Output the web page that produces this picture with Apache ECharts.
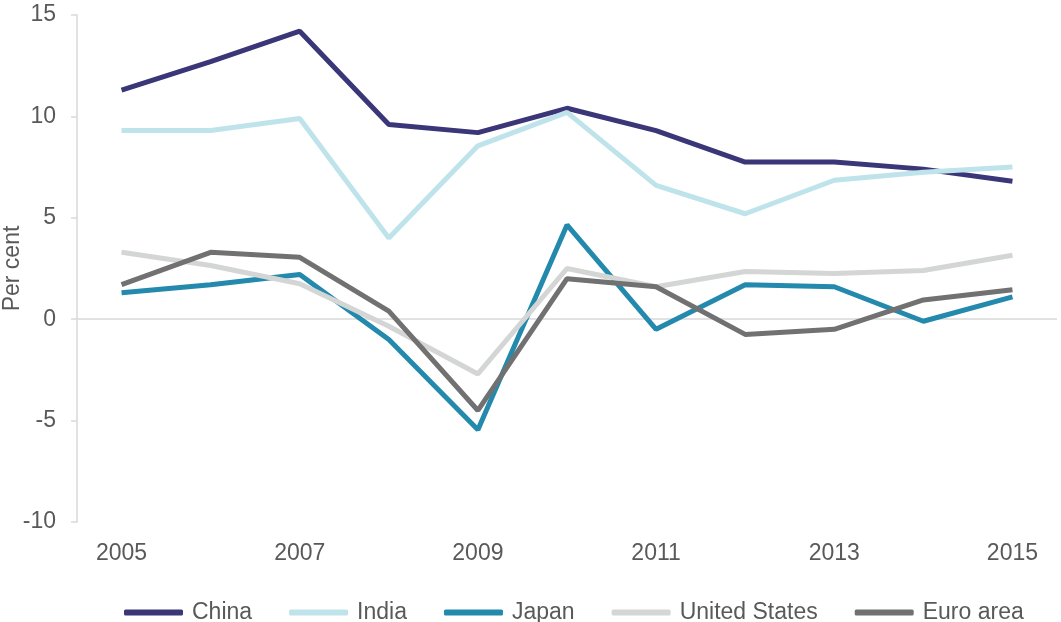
<!DOCTYPE html>
<html>
<head>
	<meta charset="utf-8">
	<title>Per cent</title>
	<script type="text/javascript" src="https://cdn.jsdelivr.net/npm/echarts@6/dist/echarts.min.js"></script>
	<style>
		html, body { margin: 0; padding: 0; background: #fff; }
		#chart { width: 1061px; height: 622px; }
	</style>
</head>
<body>
<div id="chart"></div>
<script>
	// data
	var years = ['2005', '2006', '2007', '2008', '2009', '2010', '2011', '2012', '2013', '2014', '2015'];
	var china = [11.3, 12.7, 14.2, 9.6, 9.2, 10.4, 9.3, 7.75, 7.75, 7.4, 6.8];
	var india = [9.3, 9.3, 9.9, 4.0, 8.55, 10.2, 6.6, 5.2, 6.85, 7.25, 7.5];
	var japan = [1.3, 1.7, 2.2, -1.0, -5.45, 4.65, -0.5, 1.7, 1.6, -0.1, 1.1];
	var usa = [3.3, 2.65, 1.75, -0.35, -2.7, 2.5, 1.6, 2.35, 2.25, 2.4, 3.15];
	var euro = [1.7, 3.3, 3.05, 0.4, -4.5, 2.0, 1.6, -0.75, -0.5, 0.95, 1.45];
	var yTicks = { min: -10, max: 15, step: 5 };

	var font = 'Liberation Sans, Arial, sans-serif';
	var grey = '#595959';

	function line(name, data, color) {
		return {
			name: name,
			type: 'line',
			data: data,
			symbol: 'none',
			lineStyle: { color: color, width: 5 },
			itemStyle: { color: color }
		};
	}

	var series = [
		line('China', china, '#3a3678'),
		line('India', india, '#bfe3ea'),
		line('Japan', japan, '#2389ad'),
		line('United States', usa, '#d4d5d5'),
		line('Euro area', euro, '#727172')
	];
	// zero line (the category axis crosses at 0, its labels stay at the bottom)
	series[0].markLine = {
		silent: true,
		symbol: 'none',
		label: { show: false },
		lineStyle: { color: '#d9d9d9', width: 1.5, type: 'solid' },
		data: [{ yAxis: 0 }],
		z: 1
	};

	var myChart = echarts.init(document.getElementById('chart'));
	var option = {
		animation: false,
		textStyle: { fontFamily: font },
		grid: { left: 77, right: 4, top: 15, bottom: 100, containLabel: false, outerBoundsMode: 'none' },
		legend: {
			left: 119,
			top: 596,
			icon: 'roundRect',
			itemWidth: 59,
			itemHeight: 6,
			itemGap: 37,
			textStyle: { color: grey, fontSize: 23, fontFamily: font, padding: [0, 0, 0, 4] },
			data: ['China', 'India', 'Japan', 'United States', 'Euro area']
		},
		xAxis: {
			type: 'category',
			data: years,
			boundaryGap: true,
			axisLine: { show: false },
			axisTick: { show: false },
			axisLabel: { interval: 1, color: grey, fontSize: 23, margin: 20 }
		},
		yAxis: {
			type: 'value',
			min: yTicks.min,
			max: yTicks.max,
			interval: yTicks.step,
			name: 'Per cent',
			nameLocation: 'middle',
			nameGap: 53,
			nameMoveOverlap: false,
			nameTextStyle: { color: grey, fontSize: 23 },
			axisLine: { show: true, lineStyle: { color: '#d9d9d9', width: 1.5 } },
			axisTick: { show: true, length: 6, lineStyle: { color: '#d9d9d9', width: 1.5 } },
			axisLabel: { color: grey, fontSize: 23, margin: 21 },
			splitLine: { show: false }
		},
		series: series
	};
	myChart.setOption(option);
</script>
</body>
</html>
